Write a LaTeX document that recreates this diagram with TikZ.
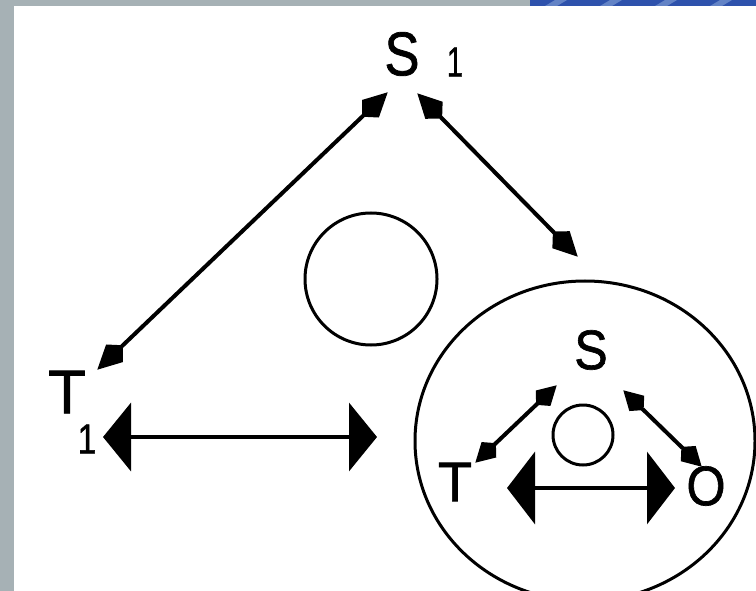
\documentclass[tikz,border=0pt]{standalone}
\usepackage{fontspec}
\setmainfont{Liberation Sans}[BoldFont=Liberation Sans, BoldFeatures={FakeBold=1.2}]
\usetikzlibrary{arrows.meta,shapes.geometric}
\definecolor{frame}{HTML}{A6B1B5}
\definecolor{band}{HTML}{2E52AC}
\definecolor{bandlight}{HTML}{6383C6}
\tikzset{
  lbl/.style={inner sep=0pt, anchor=center},
  big/.style={lbl, font=\fontsize{62}{62}\selectfont\bfseries},
  mid/.style={lbl, font=\fontsize{56}{56}\selectfont\bfseries},
  idx/.style={lbl, font=\fontsize{42}{42}\selectfont\bfseries},
  ring/.style={draw=black, line width=3bp},
  dtip/.tip={Stealth[length=24bp,width=22bp,inset=-12bp]},
  stip/.tip={Stealth[length=19bp,width=19bp,inset=-10bp]},
  htip/.tip={Triangle[length=28bp,width=68bp]},
  itip/.tip={Triangle[length=28bp,width=72bp]},
  dia/.style={line width=4bp, dtip-dtip},
  diasmall/.style={line width=4bp, stip-stip},
  hor/.style={line width=4bp, htip-htip},
  horin/.style={line width=4bp, itip-itip},
}
\begin{document}
\begin{tikzpicture}[x=1bp,y=-1bp]
\useasboundingbox (0,0) rectangle (756,591);
% frame
\fill[frame] (0,0) rectangle (756,6);
\fill[frame] (0,0) rectangle (14,591);
\fill[band] (530,0) rectangle (756,6);
\foreach \xx in {545,600,655,710} {\fill[bandlight] (\xx,6) -- (\xx+10,0) -- (\xx+22,0) -- (\xx+12,6) -- cycle;}
% labels
\node[big] (S1) at (402,54) {\scalebox{0.85}[1]{S}};
\node[idx] (S1i) at (455,62) {\scalebox{0.7}[1]{1}};
\node[big] (T1) at (67,392) {T};
\node[idx] (T1i) at (87,439) {\scalebox{0.8}[1]{1}};
\node[mid] (S) at (591,350) {\scalebox{0.9}[1]{S}};
\node[mid] (T) at (455,482) {T};
\node[mid] (O) at (706,486) {\scalebox{0.9}[1]{O}};
% circles
\node[ring, circle, minimum size=132bp, inner sep=0pt] (mc) at (371,279) {};
\node[ring, ellipse, minimum width=340bp, minimum height=320bp, inner sep=0pt] (bc) at (585,441) {};
\node[ring, circle, minimum size=60bp, inner sep=0pt] (sc) at (583,435) {};
% arrow end points
\coordinate (a1) at (388,92);
\coordinate (a2) at (97,370);
\coordinate (b1) at (417,93);
\coordinate (b2) at (578,257);
\coordinate (h1) at (103,437);
\coordinate (h2) at (377,437);
\coordinate (c1) at (475,463);
\coordinate (c2) at (557,385);
\coordinate (d1) at (623,390);
\coordinate (d2) at (702,467);
\coordinate (k1) at (507,488);
\coordinate (k2) at (675,488);
% arrows
\draw[dia] (a1) -- (a2);
\draw[dia] (b1) -- (b2);
\draw[hor] (h1) -- (h2);
\draw[diasmall] (c1) -- (c2);
\draw[diasmall] (d1) -- (d2);
\draw[horin] (k1) -- (k2);
\end{tikzpicture}
\end{document}
